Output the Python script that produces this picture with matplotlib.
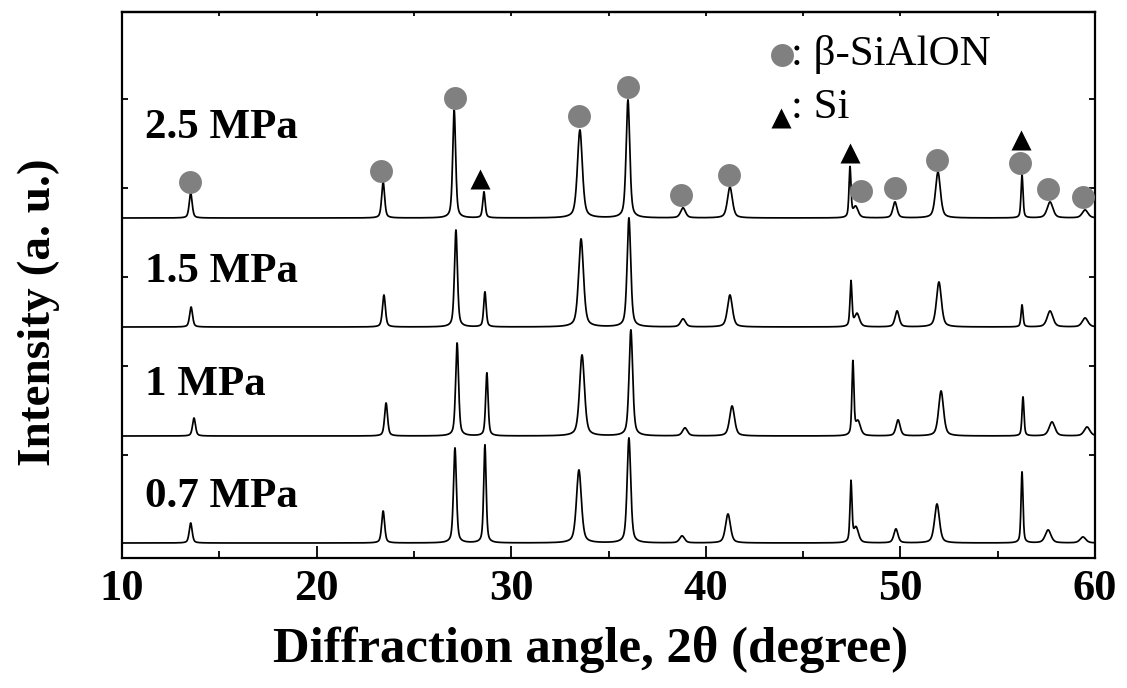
import numpy as np
import matplotlib
matplotlib.use("Agg")
import matplotlib.pyplot as plt
from matplotlib.ticker import MultipleLocator

plt.rcParams['font.family'] = ['Liberation Serif', 'DejaVu Serif']

samples = ['2.5 MPa', '1.5 MPa', '1 MPa', '0.7 MPa']
offsets = [340, 231, 122, 15]          # baseline of each stacked pattern (a.u.)
label_y = [420, 276, 163, 51]

# FWHM (deg) of each reflection, shared by all samples
fwhm = [0.18, 0.18, 0.18, 0.15, 0.30, 0.22, 0.30, 0.30, 0.12, 0.30, 0.25, 0.30, 0.12, 0.35, 0.35]

pos_25 = [13.53, 23.42, 27.07, 28.60, 33.53, 36.00, 38.83, 41.24, 47.41, 47.70, 49.72, 51.93, 56.25, 57.69, 59.49]
pos_15 = [13.55, 23.46, 27.16, 28.65, 33.59, 36.05, 38.83, 41.24, 47.46, 47.77, 49.83, 51.98, 56.25, 57.69, 59.49]
pos_10 = [13.70, 23.57, 27.22, 28.75, 33.64, 36.15, 38.93, 41.35, 47.56, 47.82, 49.88, 52.09, 56.30, 57.79, 59.59]
pos_07 = [13.53, 23.42, 27.11, 28.65, 33.48, 36.05, 38.78, 41.14, 47.46, 47.72, 49.77, 51.88, 56.25, 57.59, 59.38]

int_25 = [25, 36, 108, 26, 88, 118, 10, 31, 50, 11, 16, 46, 43, 16, 8]
int_15 = [20, 32, 97, 35, 88, 109, 8, 32, 45, 13, 16, 45, 22, 16, 9]
int_10 = [18, 33, 93, 63, 81, 106, 8, 30, 73, 14, 16, 45, 39, 14, 9]
int_07 = [20, 32, 95, 98, 73, 105, 7, 29, 60, 15, 14, 39, 71, 13, 6]

positions = [pos_25, pos_15, pos_10, pos_07]
intensities = [int_25, int_15, int_10, int_07]

# phase markers on the top pattern
sialon_x = [13.5, 23.3, 27.1, 33.5, 36.0, 38.7, 41.2, 47.97, 49.7, 51.9, 56.15, 57.6, 59.4]
sialon_y = [376, 387, 460, 442, 471, 363, 383, 367, 370, 398, 395, 369, 361]
si_x = [28.4, 47.4, 56.2]
si_y = [379, 405, 418]


def pseudo_voigt(x, c, w, eta=0.5):
    g = np.exp(-4 * np.log(2) * ((x - c) / w) ** 2)
    l = 1.0 / (1 + 4 * ((x - c) / w) ** 2)
    return eta * l + (1 - eta) * g


two_theta = np.linspace(10, 60, 6001)

fig = plt.figure(figsize=(11.27, 6.88), dpi=100)
ax = fig.add_axes([122 / 1127, 130 / 688, 973 / 1127, 546 / 688])

for name, off, ly, pos, inten in zip(samples, offsets, label_y, positions, intensities):
    y = np.full_like(two_theta, float(off))
    for c, h, w in zip(pos, inten, fwhm):
        y += h * pseudo_voigt(two_theta, c, w)
    ax.plot(two_theta, y, color='black', lw=1.25)
    ax.text(11.2, ly, name, fontsize=31, fontweight='bold', va='baseline', ha='left')

ax.plot(sialon_x, sialon_y, 'o', color='#808080', ms=16.5, mec='none', zorder=3)
ax.plot(si_x, si_y, '^', color='black', ms=15, mec='none', zorder=3)

# legend drawn as text like the original
ax.plot([43.92], [503], 'o', color='#808080', ms=16.5, mec='none')
ax.text(44.4, 493, ': \u03b2-SiAlON', fontsize=31, va='baseline', ha='left')
ax.plot([43.85], [440], '^', color='black', ms=15, mec='none')
ax.text(44.4, 440, ': Si', fontsize=31, va='baseline', ha='left')

ax.set_xlim(10, 60)
ax.set_ylim(0, 546)
ax.xaxis.set_major_locator(MultipleLocator(10))
ax.xaxis.set_minor_locator(MultipleLocator(5))
ax.set_yticks([103, 192, 281, 370, 459])
ax.set_yticklabels([])
ax.tick_params(axis='x', which='major', direction='in', length=9, width=1.3, pad=8,
               labelsize=32, top=False)
ax.tick_params(axis='x', which='minor', direction='in', length=5, width=1.3, top=False)
ax.tick_params(axis='y', direction='in', length=4, width=1.3, left=True, right=True)
for lab in ax.get_xticklabels():
    lab.set_fontweight('bold')

top = ax.secondary_xaxis('top')
top.set_xticks(np.arange(10, 61, 5))
top.tick_params(direction='in', length=3, width=1.3, labeltop=False)
top.spines['top'].set_linewidth(1.6)

for sp in ax.spines.values():
    sp.set_linewidth(1.6)

ax.set_xlabel('Diffraction angle, 2\u03b8 (degree)', fontsize=36.5, fontweight='bold')
ax.xaxis.set_label_coords(0.482, -0.125)
ax.set_ylabel('Intensity (a. u.)', fontsize=34, fontweight='bold')
ax.yaxis.set_label_coords(-0.064, 0.45)

fig.savefig('out.png', dpi=100)
